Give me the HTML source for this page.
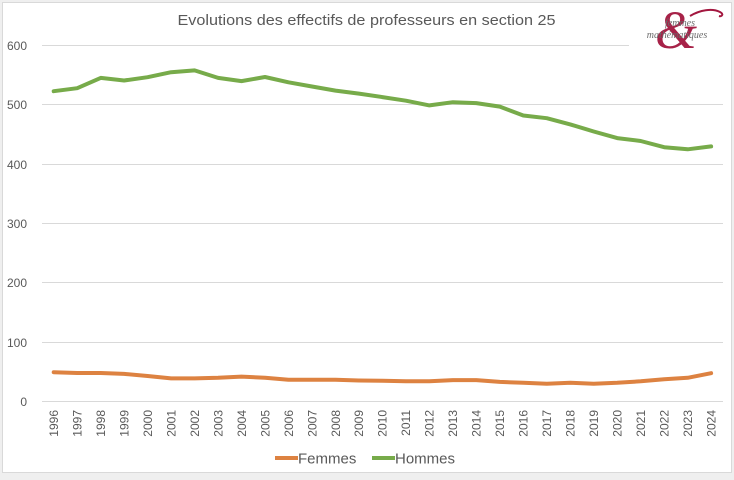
<!DOCTYPE html>
<html><head><meta charset="utf-8"><style>
html,body{margin:0;padding:0;background:#efefef;}
svg{display:block;}
</style></head><body>
<svg width="734" height="480" viewBox="0 0 734 480" xmlns="http://www.w3.org/2000/svg" font-family="Liberation Sans, sans-serif">
<rect x="0" y="0" width="734" height="480" fill="#efefef"/>
<rect x="2.5" y="2.5" width="729" height="470" fill="#ffffff" stroke="#d9d9d9" stroke-width="1"/>
<text x="366.5" y="25" font-size="15" fill="#595959" text-anchor="middle" textLength="378" lengthAdjust="spacingAndGlyphs">Evolutions des effectifs de professeurs en section 25</text>
<g stroke="#d9d9d9" stroke-width="1">
<line x1="42" y1="45.5" x2="629" y2="45.5"/>
<line x1="42" y1="104.5" x2="723" y2="104.5"/>
<line x1="42" y1="164.5" x2="723" y2="164.5"/>
<line x1="42" y1="223.5" x2="723" y2="223.5"/>
<line x1="42" y1="282.5" x2="723" y2="282.5"/>
<line x1="42" y1="342.5" x2="723" y2="342.5"/>
<line x1="42" y1="401.5" x2="723" y2="401.5"/>
</g>
<g font-size="12" fill="#595959" text-anchor="end">
<text x="27" y="50">600</text>
<text x="27" y="109">500</text>
<text x="27" y="169">400</text>
<text x="27" y="228">300</text>
<text x="27" y="287">200</text>
<text x="27" y="347">100</text>
<text x="27" y="406">0</text>
</g>
<g font-size="12" fill="#595959" text-anchor="end" id="years"></g>
<polyline id="hom" fill="none" stroke="#77ab4a" stroke-width="4" stroke-linejoin="round" stroke-linecap="round" points=""/>
<polyline id="fem" fill="none" stroke="#dd8241" stroke-width="4" stroke-linejoin="round" stroke-linecap="round" points=""/>
<line x1="275" y1="458" x2="298" y2="458" stroke="#dd8241" stroke-width="4"/>
<text x="298" y="463.5" font-size="15" fill="#595959">Femmes</text>
<line x1="372" y1="458" x2="395" y2="458" stroke="#77ab4a" stroke-width="4"/>
<text x="395" y="463.5" font-size="15" fill="#595959">Hommes</text>
<!-- logo -->
<text x="676" y="48" font-family="Liberation Serif, serif" font-style="italic" font-size="54" fill="#a3173f" text-anchor="middle" opacity="0.95">&amp;</text>
<path d="M690 16 C700 10 712 8 720 12 C724 14 722 17 719 16" fill="none" stroke="#a3173f" stroke-width="2"/>
<text x="680" y="26" font-family="Liberation Serif, serif" font-style="italic" font-size="10" fill="#6b6b6b" text-anchor="middle">femmes</text>
<text x="677" y="38" font-family="Liberation Serif, serif" font-style="italic" font-size="10" fill="#6b6b6b" text-anchor="middle">mathématiques</text>
<script>
var hom=[523,528,545.5,541,546.6,555,558,545.5,540,547,538,531,524,519,513,507,499,504.5,503,497,482,477.5,467,455,444,439,428.6,425,430];
var fem=[49.4,48,48,46.6,43,39,39,40,42,40,36.5,36.5,36.5,35.4,35,34,34,36,36,33,31.5,29.8,31.5,30,31.5,34,37.6,40,47.7];
function X(i){return 53.7+i*23.48;}
function Y(v){return 401.5-v*0.5933;}
document.getElementById('hom').setAttribute('points',hom.map(function(v,i){return X(i).toFixed(1)+','+Y(v).toFixed(1);}).join(' '));
document.getElementById('fem').setAttribute('points',fem.map(function(v,i){return X(i).toFixed(1)+','+Y(v).toFixed(1);}).join(' '));
var g=document.getElementById('years');
for(var i=0;i<29;i++){
 var t=document.createElementNS('http://www.w3.org/2000/svg','text');
 var x=X(i)+4.3;
 t.setAttribute('x',0);t.setAttribute('y',0);
 t.setAttribute('transform','translate('+x.toFixed(1)+',410) rotate(-90)');
 t.textContent=String(1996+i);
 g.appendChild(t);
}
</script>
</svg>
</body></html>
